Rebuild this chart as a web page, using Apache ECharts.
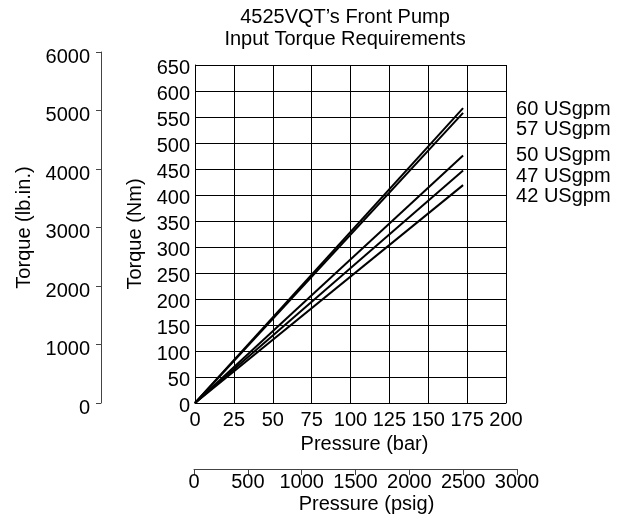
<!DOCTYPE html>
<html><head><meta charset="utf-8">
<script src="https://cdn.jsdelivr.net/npm/echarts@6/dist/echarts.min.js"></script>
<style>html,body{margin:0;padding:0;background:#fff}#c{width:620px;height:522px}</style>
</head><body><div id="c"></div>
<script>
// ---- data ----
const titleLines = ["4525VQT’s Front Pump", "Input Torque Requirements"];
const pressureBar = [0, 172.4];            // line start / end (bar)
const seriesNames = ["60 USgpm", "57 USgpm", "50 USgpm", "47 USgpm", "42 USgpm"];
const torque60 = [0, 567];
const torque57 = [0, 558];
const torque50 = [0, 476];
const torque47 = [0, 447];
const torque42 = [0, 419];
const barTicks = [0, 200, 25];      // min, max, step
const nmTicks = [0, 650, 50];
const lbinTicks = [0, 6000, 1000];
const psigTicks = [0, 3000, 500];

// ---- style ----
const FONT = '"Liberation Sans", Arial, Helvetica, sans-serif';
const TXT = '#000';
const labelOffsets = [1.3, 16.5, 0.5, 5.5, 11];
const torques = [torque60, torque57, torque50, torque47, torque42];
const plain = v => String(v);

const series = seriesNames.map((name, k) => ({
  type: 'line', name: name, xAxisIndex: 0, yAxisIndex: 0,
  data: pressureBar.map((p, i) => [p, torques[k][i]]),
  symbol: 'none', silent: true,
  lineStyle: { color: '#000', width: 2 },
  endLabel: {
    show: true, formatter: name, distance: 0, offset: [53, labelOffsets[k]],
    fontSize: 20, color: TXT, fontFamily: FONT
  }
}));

const chart = echarts.init(document.getElementById('c'), null, { renderer: 'canvas' });
chart.setOption({
  animation: false,
  backgroundColor: '#fff',
  textStyle: { fontFamily: FONT, color: TXT },
  title: {
    text: titleLines.join('\n'), left: 345, top: 6, padding: 0, textAlign: 'center',
    textStyle: { fontSize: 20, fontWeight: 'normal', color: TXT, fontFamily: FONT, lineHeight: 22 }
  },
  grid: [
    { left: 195, top: 65, width: 311, height: 338, outerBoundsMode: 'none', containLabel: false },
    { left: 101, top: 52, width: 10, height: 351, outerBoundsMode: 'none', containLabel: false },
    { left: 194, top: 460, width: 323, height: 9, outerBoundsMode: 'none', containLabel: false }
  ],
  xAxis: [
    {
      gridIndex: 0, type: 'value', min: barTicks[0], max: barTicks[1], interval: barTicks[2],
      name: 'Pressure (bar)', nameLocation: 'middle', nameGap: 24,
      nameTextStyle: { fontSize: 20, color: TXT, fontFamily: FONT, padding: [0, 0, 0, 28] },
      axisLine: { show: true, onZero: false, lineStyle: { color: '#000', width: 1 } },
      axisTick: { show: false },
      axisLabel: { fontSize: 20, color: TXT, fontFamily: FONT, margin: 7, formatter: plain },
      splitLine: { show: true, lineStyle: { color: '#000', width: 1 } }
    },
    { gridIndex: 1, type: 'value', show: false },
    {
      gridIndex: 2, type: 'value', position: 'bottom', min: psigTicks[0], max: psigTicks[1], interval: psigTicks[2],
      name: 'Pressure (psig)', nameLocation: 'middle', nameGap: 25,
      nameTextStyle: { fontSize: 20, color: TXT, fontFamily: FONT, padding: [0, 0, 0, 22] },
      axisLine: { show: true, onZero: false, lineStyle: { color: '#444', width: 1 } },
      axisTick: { show: true, inside: false, length: 6, lineStyle: { color: '#444', width: 1 } },
      axisLabel: { fontSize: 20, color: TXT, fontFamily: FONT, margin: 3, formatter: plain },
      splitLine: { show: false }
    }
  ],
  yAxis: [
    {
      gridIndex: 0, type: 'value', min: nmTicks[0], max: nmTicks[1], interval: nmTicks[2],
      name: 'Torque (Nm)', nameLocation: 'middle', nameGap: 49,
      nameTextStyle: { fontSize: 20, color: TXT, fontFamily: FONT },
      axisLine: { show: true, onZero: false, lineStyle: { color: '#000', width: 1 } },
      axisTick: { show: false },
      axisLabel: { fontSize: 20, color: TXT, fontFamily: FONT, margin: 5, verticalAlign: 'top', lineHeight: 6, formatter: plain },
      splitLine: { show: true, lineStyle: { color: '#000', width: 1 } }
    },
    {
      gridIndex: 1, type: 'value', position: 'left', min: lbinTicks[0], max: lbinTicks[1], interval: lbinTicks[2],
      name: 'Torque (lb.in.)', nameLocation: 'middle', nameGap: 67,
      nameTextStyle: { fontSize: 20, color: TXT, fontFamily: FONT },
      axisLine: { show: true, onZero: false, lineStyle: { color: '#444', width: 1 } },
      axisTick: { show: true, inside: false, length: 5, lineStyle: { color: '#444' } },
      axisLabel: { fontSize: 20, color: TXT, fontFamily: FONT, margin: 11, verticalAlign: 'top', lineHeight: 10, formatter: plain },
      splitLine: { show: false }
    },
    { gridIndex: 2, type: 'value', show: false, min: 0, max: 1 }
  ],
  series: series
});
</script>
</body></html>
